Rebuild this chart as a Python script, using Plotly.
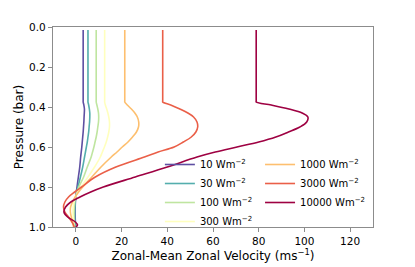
import plotly.graph_objects as go

# Pressure levels (bar)
pressure = [0.015, 0.2, 0.37, 0.375, 0.39, 0.41, 0.43, 0.45, 0.475, 0.5, 0.525, 0.55,
            0.575, 0.6, 0.625, 0.65, 0.7, 0.75, 0.8, 0.825, 0.85, 0.875, 0.9,
            0.925, 0.95, 0.975, 0.99, 1.0]

# Zonal-mean zonal velocity (m/s) for each irradiation
u_10 = [3.2, 3.2, 3.2, 3.2, 3.5, 3.75, 3.7, 3.6, 3.5, 3.35, 3.2, 3.0,
        2.8, 2.6, 2.35, 2.1, 1.7, 1.1, 0.5, 0.2, 0.0, -0.2, -0.3,
        -0.35, -0.3, -0.2, -0.1, 0.0]
u_30 = [5.3, 5.3, 5.3, 5.3, 5.6, 5.9, 6.1, 6.1, 6.0, 5.8, 5.6, 5.3,
        5.0, 4.6, 4.2, 3.8, 3.0, 2.0, 0.9, 0.4, 0.0, -0.3, -0.4,
        -0.5, -0.5, -0.4, -0.3, -0.3]
u_100 = [8.9, 8.9, 8.9, 8.9, 9.2, 9.6, 9.9, 10.0, 9.9, 9.6, 9.3, 8.9,
         8.4, 7.9, 7.3, 6.7, 5.0, 3.4, 1.3, 0.5, -0.1, -0.5, -0.7,
         -0.8, -0.8, -0.7, -0.6, -0.5]
u_300 = [12.6, 12.6, 12.6, 12.6, 12.9, 13.5, 14.0, 14.4, 14.7, 14.7, 14.4, 13.9,
         13.3, 12.5, 11.6, 10.7, 8.2, 5.3, 2.2, 0.9, -0.1, -0.8, -1.2,
         -1.3, -1.2, -1.0, -0.9, -0.8]
u_1000 = [21.4, 21.4, 21.4, 21.4, 22.5, 24.3, 25.8, 26.9, 27.5, 27.4, 26.5, 24.8,
          22.8, 20.3, 18.0, 15.5, 11.0, 7.0, 3.0, 1.2, -0.3, -1.5, -2.3,
          -2.4, -2.0, -1.5, -1.2, -1.0]
u_3000 = [38.0, 38.0, 38.0, 38.0, 41.5, 45.5, 49.0, 51.5, 53.0, 53.3, 52.5, 50.5,
          47.0, 43.0, 36.0, 30.0, 17.5, 8.5, 2.5, -0.5, -3.2, -4.8, -5.4,
          -4.8, -3.2, -1.7, -1.0, -0.7]
u_10000 = [78.9, 78.9, 78.9, 78.9, 85.5, 93.2, 99.0, 101.5, 101.0, 98.0, 93.0, 87.5,
           80.0, 70.5, 61.0, 53.0, 40.0, 26.0, 12.0, 6.5, 1.8, -2.2, -4.5,
           -5.2, -3.6, -0.2, 0.7, 0.0]

labels = ["10 Wm<sup>−2</sup>", "30 Wm<sup>−2</sup>", "100 Wm<sup>−2</sup>",
          "300 Wm<sup>−2</sup>", "1000 Wm<sup>−2</sup>", "3000 Wm<sup>−2</sup>",
          "10000 Wm<sup>−2</sup>"]
series = [u_10, u_30, u_100, u_300, u_1000, u_3000, u_10000]
colors = ["#5e4fa2", "#54aead", "#bfe5a0", "#ffffbe", "#fdbf6f", "#ea5f48", "#9e0142"]
legend_ids = ["legend", "legend", "legend", "legend", "legend2", "legend2", "legend2"]

x_ticks = [0, 20, 40, 60, 80, 100, 120]
y_ticks = [0.0, 0.2, 0.4, 0.6, 0.8, 1.0]

fig = go.Figure()
for name, u, c, lg in zip(labels, series, colors, legend_ids):
    fig.add_trace(go.Scatter(x=u, y=pressure, mode="lines", name=name,
                             line=dict(color=c, width=1.6, shape="spline", smoothing=1),
                             legend=lg))

axis_common = dict(showline=True, mirror=True, linecolor="#8c8c8c", linewidth=1.3,
                   ticks="outside", ticklen=4, tickwidth=1, tickcolor="#8c8c8c",
                   showgrid=False, zeroline=False, automargin=False,
                   tickfont=dict(size=10.5))

# the page body has an 8px default margin, so the figure is sized 8px smaller
fig.update_layout(
    width=407, height=259,
    margin=dict(l=45, r=42, t=19, b=40),
    plot_bgcolor="white", paper_bgcolor="white",
    font=dict(family="DejaVu Sans", size=10, color="black"),
    xaxis=dict(range=[-10, 130], tickvals=x_ticks,
               title=dict(text="Zonal-Mean Zonal Velocity (ms<sup>−1</sup>)", standoff=4),
               **axis_common),
    yaxis=dict(range=[1.0, 0.0], tickvals=y_ticks, tickformat=".1f",
               title=dict(text="Pressure (bar)", standoff=2),
               **axis_common),
    legend=dict(x=0.334, y=0.385, xanchor="left", yanchor="top",
                bgcolor="rgba(0,0,0,0)", font=dict(size=10), itemwidth=30),
    legend2=dict(x=0.647, y=0.385, xanchor="left", yanchor="top",
                 bgcolor="rgba(0,0,0,0)", font=dict(size=10), itemwidth=30),
)

fig.write_html("out.html")
